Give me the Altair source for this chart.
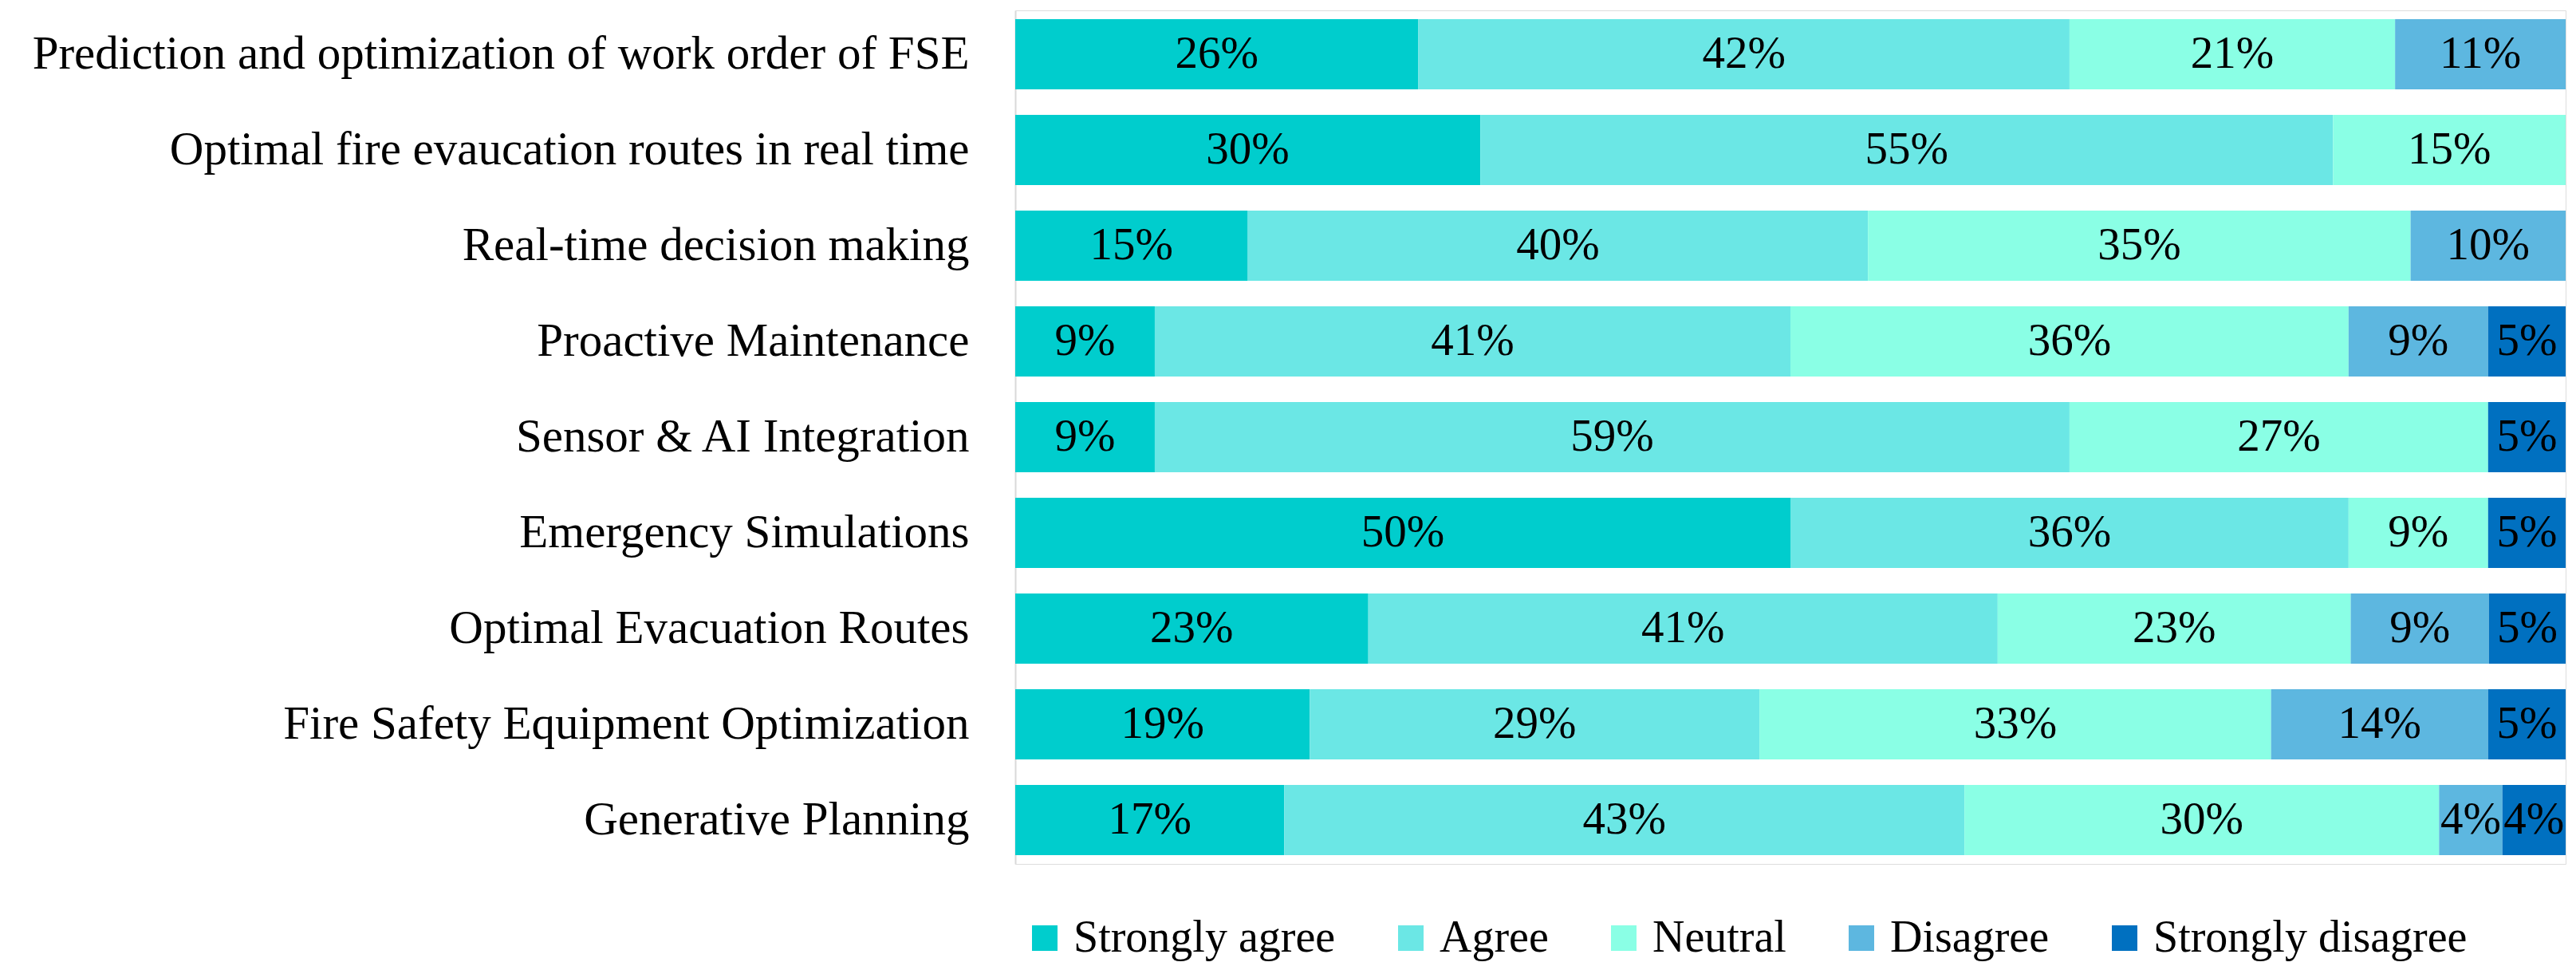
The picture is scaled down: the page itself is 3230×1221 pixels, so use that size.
import altair as alt
import pandas as pd

tasks = [
    "Prediction and optimization of work order of FSE",
    "Optimal fire evaucation routes in  real time",
    "Real-time decision making",
    "Proactive Maintenance",
    "Sensor & AI Integration",
    "Emergency Simulations",
    "Optimal Evacuation Routes",
    "Fire Safety Equipment Optimization",
    "Generative Planning",
]
responses = ["Strongly agree", "Agree", "Neutral", "Disagree", "Strongly disagree"]
colors = ["#00CDCD", "#6BE7E5", "#8AFFE5", "#5DB7E0", "#0070C0"]

strongly_agree = [26, 30, 15, 9, 9, 50, 23, 19, 17]
agree = [42, 55, 40, 41, 59, 36, 41, 29, 43]
neutral = [21, 15, 35, 36, 27, 9, 23, 33, 30]
disagree = [11, 0, 10, 9, 0, 0, 9, 14, 4]
strongly_disagree = [0, 0, 0, 5, 5, 5, 5, 5, 4]

series = [strongly_agree, agree, neutral, disagree, strongly_disagree]
rows = []
for ti, t in enumerate(tasks):
    for ri, r in enumerate(responses):
        rows.append({"task": t, "response": r, "order": ri, "value": series[ri][ti]})
df = pd.DataFrame(rows)

FONT = "Liberation Serif"

base = alt.Chart(df).transform_filter(
    alt.datum.value > 0
).transform_stack(
    stack="value",
    groupby=["task"],
    as_=["v0", "v1"],
    sort=[alt.SortField("order", order="ascending")],
    offset="normalize",
).transform_calculate(
    mid="(datum.v0 + datum.v1) / 2",
    label="datum.value + '%'",
)

yenc = alt.Y(
    "task:N",
    sort=tasks,
    title=None,
    scale=alt.Scale(paddingInner=0.267, paddingOuter=0.092),
    axis=alt.Axis(
        labelFont=FONT,
        labelFontSize=59,
        labelColor="#000000",
        labelPadding=58,
        labelLimit=2000,
        ticks=False,
        domainColor="#D9D9D9",
        domainWidth=2,
        minExtent=1260,
        maxExtent=1260,
    ),
)

xscale = alt.Scale(domain=[0, 1], nice=False)

bars = base.mark_bar().encode(
    y=yenc,
    x=alt.X("v0:Q", axis=None, scale=xscale),
    x2="v1:Q",
    color=alt.Color(
        "response:N",
        sort=responses,
        scale=alt.Scale(domain=responses, range=colors),
        legend=alt.Legend(
            title=None,
            orient="none",
            direction="horizontal",
            columns=5,
            legendX=9,
            legendY=1135,
            padding=0,
            symbolType="square",
            symbolSize=1024,
            symbolStrokeWidth=0,
            symbolOpacity=1,
            labelFont=FONT,
            labelFontSize=56,
            labelColor="#000000",
            labelOffset=8,
            columnPadding=66,
            labelLimit=1000,
        ),
    ),
)

text = base.mark_text(font=FONT, fontSize=57, color="#000000", baseline="middle").encode(
    y=alt.Y("task:N", sort=tasks),
    x=alt.X("mid:Q", axis=None, scale=xscale),
    text="label:N",
)

chart = (
    alt.layer(bars, text)
    .properties(width=1944, height=1070)
    .configure_view(stroke=None)
    .configure(background="#FFFFFF")
)

chart.save("out.html", embed_options={"renderer": "svg", "actions": False})
